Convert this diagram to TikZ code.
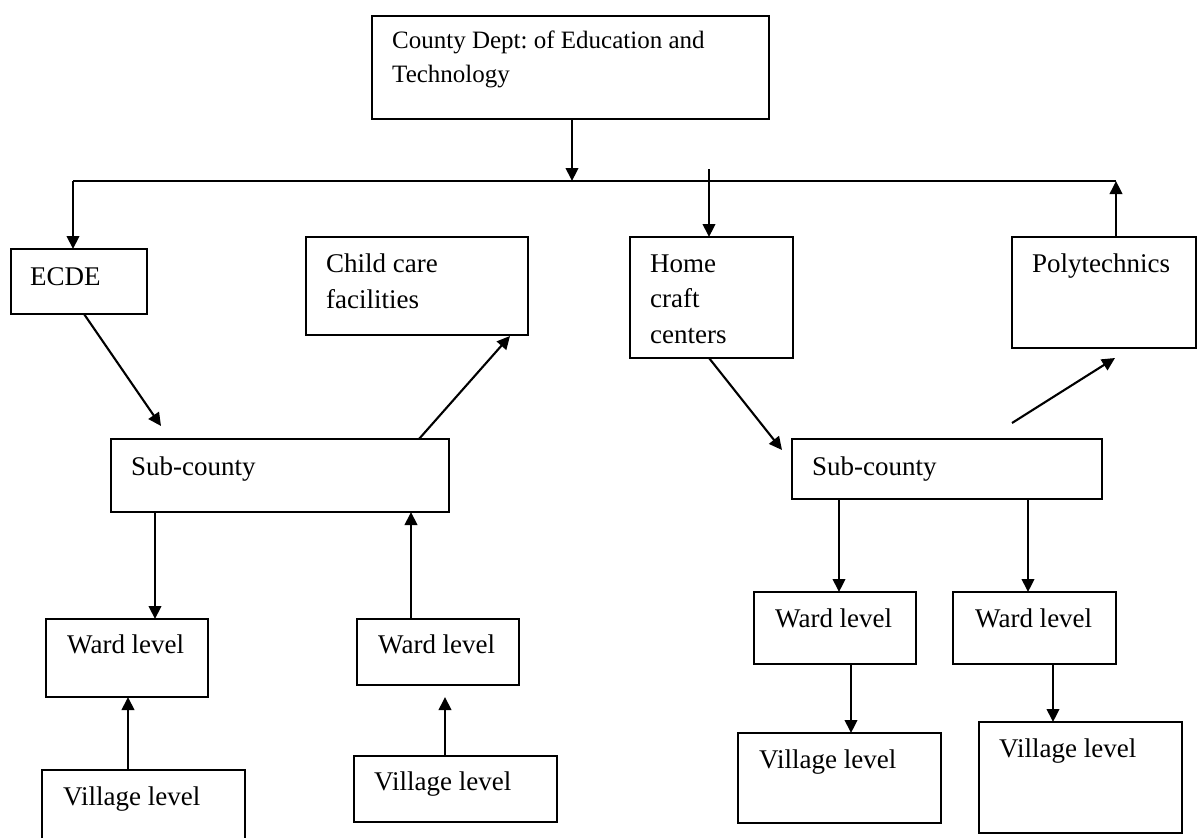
\documentclass[tikz,border=0pt]{standalone}
\usepackage{fontspec}
\setmainfont{Liberation Serif}
\usetikzlibrary{arrows.meta,calc}
\frenchspacing
\begin{document}
\begin{tikzpicture}[x=1pt,y=-1pt,
  boxline/.style={draw=black,line width=1.8pt},
  frame/.style={inner sep=0pt,outer sep=0pt,anchor=north west},
  arr/.style={line width=2.1pt,-{Triangle[length=13pt,width=12.5pt]}},
  bus/.style={line width=1.7pt},
  lbl/.style={anchor=base west,inner sep=0pt,font=\fontsize{27}{32}\selectfont},
  headlbl/.style={lbl,font=\fontsize{25}{30}\selectfont}]
\useasboundingbox (0,0) rectangle (1198,838);
% \orgbox{name}{left}{top}{right}{bottom}
\newcommand\orgbox[5]{%
  \node[frame,boxline,minimum width={#4pt-#2pt},minimum height={#5pt-#3pt}]
    (#1) at (#2,#3) {};}

% ---- boxes ----
\orgbox{top}{372}{16}{769}{119}
\orgbox{ecde}{11}{249}{147}{314}
\orgbox{child}{306}{237}{528}{335}
\orgbox{home}{630}{237}{793}{358}
\orgbox{poly}{1012}{237}{1196}{348}
\orgbox{subL}{111}{439}{449}{512}
\orgbox{subR}{792}{439}{1102}{499}
\orgbox{wardLa}{46}{619}{208}{697}
\orgbox{wardLb}{357}{619}{519}{685}
\orgbox{villLb}{354}{756}{557}{822}
\orgbox{wardRa}{754}{592}{916}{664}
\orgbox{wardRb}{953}{592}{1116}{664}
\orgbox{villRa}{738}{733}{941}{823}
\orgbox{villRb}{979}{722}{1182}{833}
% lowest left box runs past the bottom edge: no bottom side
\node[frame,minimum width={203pt},minimum height={68pt}] (villLa) at (42,770) {};
\draw[boxline] (villLa.south west) -- (villLa.north west)
  -- (villLa.north east) -- (villLa.south east);

% ---- labels ----
\node[headlbl] (topT1) at (392,48) {County Dept: of Education and};
\node[headlbl] (topT2) at (392,82) {Technology};
\node[lbl] (ecdeT) at (30,285) {ECDE};
\node[lbl] (childT1) at (326,272) {Child care};
\node[lbl] (childT2) at (326,308) {facilities};
\node[lbl] (homeT1) at (650,272) {Home};
\node[lbl] (homeT2) at (650,307) {craft};
\node[lbl] (homeT3) at (650,343) {centers};
\node[lbl] (polyT) at (1032,272) {Polytechnics};
\node[lbl] (subLT) at (131,475) {Sub-county};
\node[lbl] (subRT) at (812,475) {Sub-county};
\node[lbl] (wardLaT) at (67,653) {Ward level};
\node[lbl] (wardLbT) at (378,653) {Ward level};
\node[lbl] (wardRaT) at (775,627) {Ward level};
\node[lbl] (wardRbT) at (975,627) {Ward level};
\node[lbl] (villLaT) at (63,805) {Village level};
\node[lbl] (villLbT) at (374,790) {Village level};
\node[lbl] (villRaT) at (759,768) {Village level};
\node[lbl] (villRbT) at (999,757) {Village level};

% ---- distribution bus ----
\coordinate (busL) at (73,181);
\coordinate (busR) at (1116,181);
\coordinate (busMid) at (572,181);
\coordinate (homeIn) at (709,169);
\draw[bus] (busL) -- (busR);
\draw[arr] (top.south -| busMid) -- (busMid);
\draw[arr] (busL) -- (busL |- ecde.north);
\draw[arr] (homeIn) -- (homeIn |- home.north);
\draw[arr] (busR |- poly.north) -- (busR);

% ---- diagonal links ----
\coordinate (ecdeOut) at (84,314);
\coordinate (subLIn) at (161,426);
\draw[arr] (ecdeOut) -- (subLIn);
\coordinate (subLOut) at (419,439);
\coordinate (childIn) at (510,336);
\draw[arr] (subLOut) -- (childIn);
\coordinate (homeOut) at (709,358);
\coordinate (subRIn) at (782,450);
\draw[arr] (homeOut) -- (subRIn);
\coordinate (subROut) at (1012,423);
\coordinate (polyIn) at (1115,358);
\draw[arr] (subROut) -- (polyIn);

% ---- left branch ----
\coordinate (xa) at (155,0);
\coordinate (xb) at (411,0);
\coordinate (xc) at (128,0);
\coordinate (xd) at (445,697);
\draw[arr] (subL.south -| xa) -- (wardLa.north -| xa);
\draw[arr] (wardLb.north -| xb) -- (subL.south -| xb);
\draw[arr] (villLa.north -| xc) -- (wardLa.south -| xc);
\draw[arr] (villLb.north -| xd) -- (xd);

% ---- right branch ----
\coordinate (xe) at (839,0);
\coordinate (xf) at (1028,0);
\coordinate (xg) at (851,0);
\coordinate (xh) at (1053,0);
\draw[arr] (subR.south -| xe) -- (wardRa.north -| xe);
\draw[arr] (subR.south -| xf) -- (wardRb.north -| xf);
\draw[arr] (wardRa.south -| xg) -- (villRa.north -| xg);
\draw[arr] (wardRb.south -| xh) -- (villRb.north -| xh);
\end{tikzpicture}
\end{document}
